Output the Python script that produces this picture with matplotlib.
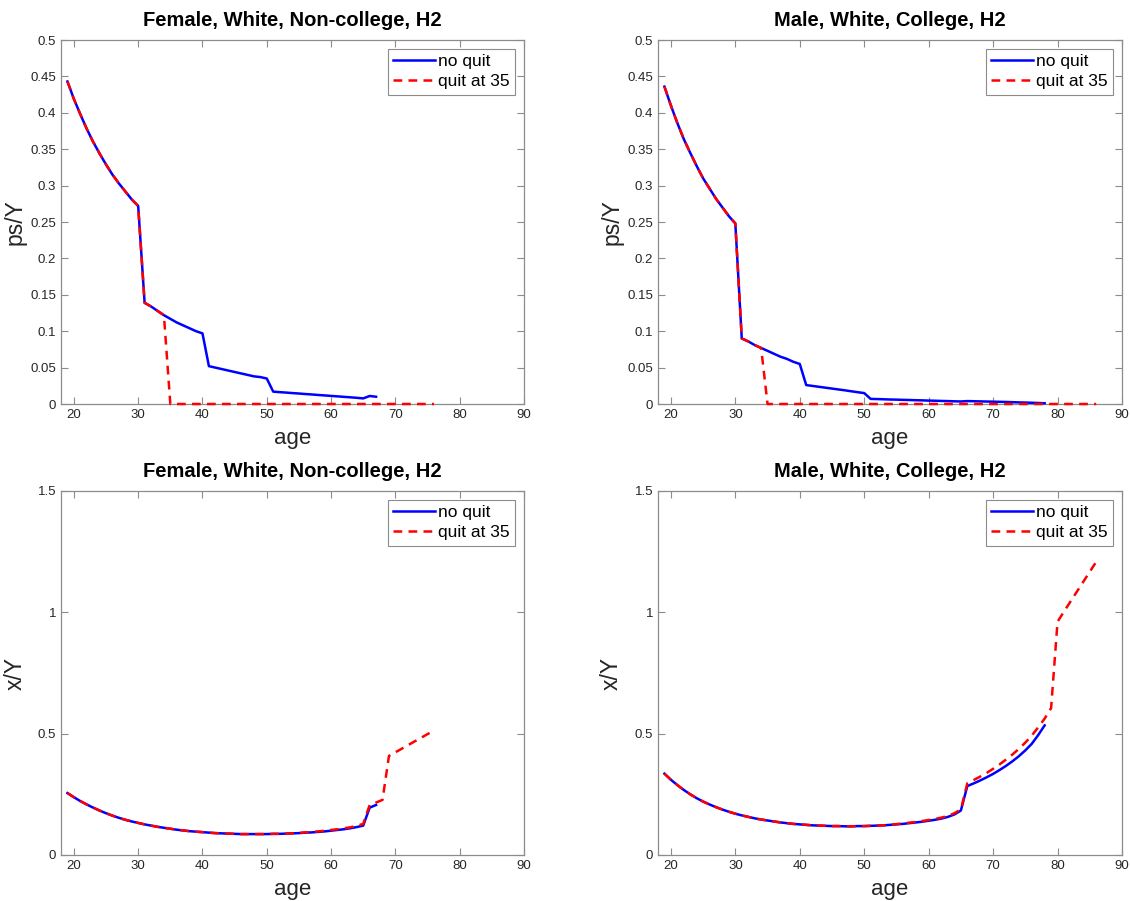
import matplotlib
matplotlib.use('Agg')
import matplotlib.pyplot as plt
import matplotlib.ticker as mtick

plt.rcParams['font.family'] = ['Liberation Sans', 'DejaVu Sans']

# ---- data (values per age) ----
ages_f_noquit = list(range(19, 68))
ages_f_quit = list(range(19, 77))
ages_m_noquit = list(range(19, 79))
ages_m_quit = list(range(19, 87))

# ps/Y, female, white, non-college
ps_f_noquit = [0.443, 0.419, 0.398, 0.378, 0.360, 0.344, 0.329, 0.315, 0.303, 0.292, 0.281, 0.272,
               0.139, 0.134, 0.128, 0.122, 0.117, 0.112, 0.108, 0.104, 0.100, 0.097,
               0.052, 0.050, 0.048, 0.046, 0.044, 0.042, 0.040, 0.038, 0.037, 0.035,
               0.017, 0.0163, 0.0157, 0.0150, 0.0144, 0.0137, 0.0131, 0.0124, 0.0118, 0.0111,
               0.0105, 0.0098, 0.0092, 0.0085, 0.0077,
               0.011, 0.010]
ps_f_quit = [0.443, 0.419, 0.398, 0.378, 0.360, 0.344, 0.329, 0.315, 0.303, 0.292, 0.281, 0.272,
             0.139, 0.134, 0.128, 0.122,
             0, 0, 0, 0, 0, 0, 0, 0, 0, 0, 0, 0, 0, 0, 0, 0, 0, 0, 0, 0, 0, 0, 0, 0, 0,
             0, 0, 0, 0, 0, 0, 0, 0, 0, 0, 0, 0, 0, 0, 0, 0, 0]

# ps/Y, male, white, college
ps_m_noquit = [0.436, 0.410, 0.386, 0.364, 0.345, 0.327, 0.310, 0.296, 0.282, 0.270, 0.258, 0.248,
               0.090, 0.086, 0.081, 0.077, 0.073, 0.069, 0.065, 0.062, 0.058, 0.055,
               0.026, 0.0248, 0.0236, 0.0224, 0.0212, 0.0200, 0.0188, 0.0175, 0.0162, 0.015,
               0.0070, 0.0068, 0.0065, 0.0062, 0.0060, 0.0057, 0.0055, 0.0052, 0.0050, 0.0047,
               0.0045, 0.0042, 0.0040, 0.0037, 0.0035,
               0.0040, 0.0038, 0.0036, 0.0034, 0.0032, 0.0030, 0.0028, 0.0025, 0.0022, 0.0020,
               0.0017, 0.0014, 0.0010]
ps_m_quit = [0.436, 0.410, 0.386, 0.364, 0.345, 0.327, 0.310, 0.296, 0.282, 0.270, 0.258, 0.248,
             0.090, 0.086, 0.081, 0.077,
             0, 0, 0, 0, 0, 0, 0, 0, 0, 0, 0, 0, 0, 0, 0, 0, 0, 0, 0, 0, 0, 0, 0, 0, 0, 0,
             0, 0, 0, 0, 0, 0, 0, 0, 0, 0, 0, 0, 0, 0, 0, 0, 0, 0, 0, 0, 0, 0, 0, 0, 0, 0]

# x/Y, female, white, non-college
x_f_noquit = [0.255, 0.238, 0.222, 0.208, 0.195, 0.183, 0.172, 0.162, 0.153, 0.145, 0.138, 0.132,
              0.126, 0.121, 0.116, 0.112, 0.108, 0.104, 0.101, 0.098, 0.096, 0.094,
              0.092, 0.090, 0.089, 0.088, 0.087, 0.086, 0.086, 0.086, 0.086, 0.086,
              0.087, 0.087, 0.088, 0.089, 0.090, 0.092, 0.093, 0.095, 0.097, 0.100,
              0.103, 0.106, 0.110, 0.115, 0.121, 0.195, 0.206]
x_f_quit = [0.255, 0.238, 0.222, 0.208, 0.195, 0.183, 0.172, 0.162, 0.153, 0.145, 0.138, 0.132,
            0.126, 0.121, 0.116, 0.112, 0.108, 0.104, 0.101, 0.098, 0.096, 0.094,
            0.092, 0.090, 0.089, 0.088, 0.087, 0.086, 0.086, 0.086, 0.086, 0.086,
            0.087, 0.087, 0.088, 0.089, 0.091, 0.093, 0.095, 0.097, 0.100, 0.103,
            0.106, 0.110, 0.114, 0.120, 0.128, 0.206, 0.216, 0.227,
            0.408, 0.423, 0.438, 0.453, 0.468, 0.483, 0.498, 0.512]

# x/Y, male, white, college
x_m_noquit = [0.335, 0.310, 0.288, 0.268, 0.250, 0.234, 0.220, 0.208, 0.197, 0.187, 0.178, 0.170,
              0.163, 0.157, 0.151, 0.146, 0.142, 0.138, 0.134, 0.131, 0.128, 0.126,
              0.124, 0.122, 0.121, 0.120, 0.119, 0.119, 0.118, 0.118, 0.119, 0.119,
              0.120, 0.121, 0.122, 0.124, 0.126, 0.128, 0.131, 0.134, 0.137, 0.141,
              0.145, 0.150, 0.157, 0.167, 0.183,
              0.284, 0.295, 0.307, 0.320, 0.334, 0.350, 0.367, 0.386, 0.407, 0.431,
              0.458, 0.494, 0.534]
x_m_quit = [0.335, 0.310, 0.288, 0.268, 0.250, 0.234, 0.220, 0.208, 0.197, 0.187, 0.178, 0.170,
            0.163, 0.157, 0.151, 0.146, 0.142, 0.138, 0.134, 0.131, 0.128, 0.126,
            0.124, 0.122, 0.121, 0.120, 0.119, 0.119, 0.118, 0.118, 0.119, 0.119,
            0.120, 0.121, 0.122, 0.124, 0.127, 0.130, 0.133, 0.136, 0.140, 0.144,
            0.149, 0.154, 0.161, 0.172, 0.188,
            0.295, 0.309, 0.323, 0.338, 0.355, 0.373, 0.393, 0.414, 0.437, 0.463,
            0.492, 0.526, 0.562, 0.605, 0.961, 1.003, 1.044, 1.085, 1.126, 1.167, 1.208]

titles = ['Female, White, Non-college, H2', 'Male, White, College, H2']
labels = ['no quit', 'quit at 35']

GRAY = '#262626'
EDGE = '#8c8c8c'

fig = plt.figure(figsize=(11.3, 9.01), dpi=100)
positions = [[0.054, 0.5516, 0.4097, 0.404], [0.5823, 0.5516, 0.4106, 0.404],
             [0.054, 0.0511, 0.4097, 0.404], [0.5823, 0.0511, 0.4106, 0.404]]

panels = [
    (ages_f_noquit, ps_f_noquit, ages_f_quit, ps_f_quit, titles[0], 'ps/Y'),
    (ages_m_noquit, ps_m_noquit, ages_m_quit, ps_m_quit, titles[1], 'ps/Y'),
    (ages_f_noquit, x_f_noquit, ages_f_quit, x_f_quit, titles[0], 'x/Y'),
    (ages_m_noquit, x_m_noquit, ages_m_quit, x_m_quit, titles[1], 'x/Y'),
]

for i, (a1, y1, a2, y2, title, ylab) in enumerate(panels):
    ax = fig.add_axes(positions[i])
    ax.plot(a1, y1, color='b', linewidth=1.8, label=labels[0], clip_on=False, zorder=3)
    ax.plot(a2, y2, color='r', linestyle=(0, (3.5, 2.5)), linewidth=1.8,
            label=labels[1], clip_on=False, zorder=3)
    ax.set_xlim(18, 90)
    ax.set_xticks(range(20, 91, 10))
    if i < 2:
        ax.set_ylim(0, 0.5)
        ax.set_yticks([k * 0.05 for k in range(11)])
    else:
        ax.set_ylim(0, 1.5)
        ax.set_yticks([0, 0.5, 1, 1.5])
    ax.yaxis.set_major_formatter(mtick.FormatStrFormatter('%g'))
    ax.tick_params(direction='in', top=True, right=True, length=5, width=0.8,
                   colors=EDGE, labelcolor=GRAY, labelsize=9.5, pad=3.5)
    for s in ax.spines.values():
        s.set_color(EDGE)
        s.set_linewidth(0.9)
    ax.set_title(title, fontsize=14.5, fontweight='bold', pad=10)
    ax.set_xlabel('age', fontsize=16, color=GRAY, labelpad=5)
    ax.set_ylabel(ylab, fontsize=16.5, color=GRAY)
    ax.yaxis.set_label_coords(-0.075, 0.5)
    leg = ax.legend(loc='upper right', fontsize=12.5, fancybox=False, framealpha=1,
                    edgecolor=EDGE, handlelength=2.4, handletextpad=0.2,
                    borderaxespad=0.5, borderpad=0.3, labelspacing=0.3)
    leg.get_frame().set_linewidth(0.8)
    leg.set_zorder(5)

fig.savefig('out.png', dpi=100)
